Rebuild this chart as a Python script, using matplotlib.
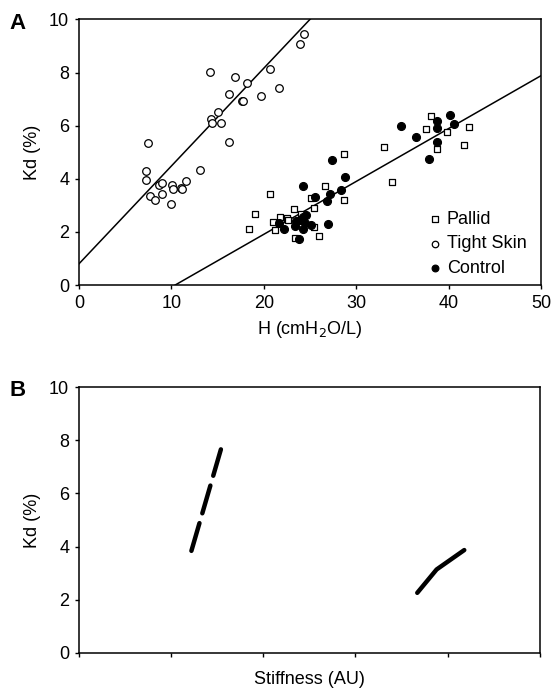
import matplotlib
matplotlib.use('Agg')
import matplotlib.pyplot as plt

plt.rcParams['font.family'] = ['Liberation Sans', 'DejaVu Sans']

# Панель A: Kd против H
tight_x = [7.44, 7.3, 7.3, 7.7, 8.2, 8.66, 9.0, 9.0, 10.0, 10.07, 10.18, 11.08, 11.2, 11.6, 13.1,
           14.2, 14.3, 14.4, 15.1, 15.4, 16.2, 16.2, 16.9, 17.65, 17.8, 18.2, 19.7, 20.7, 21.7, 23.9, 24.4]
tight_y = [5.35, 4.30, 3.95, 3.35, 3.2, 3.78, 3.86, 3.41, 3.06, 3.78, 3.61, 3.66, 3.63, 3.92, 4.35,
           8.01, 6.24, 6.10, 6.50, 6.10, 7.18, 5.39, 7.82, 6.92, 6.92, 7.62, 7.11, 8.13, 7.43, 9.06, 9.46]

pallid_x = [18.4, 19.0, 20.65, 21.0, 21.2, 21.8, 22.5, 22.6, 23.3, 23.4, 24.0, 24.1, 25.1, 25.4, 25.4,
            26.0, 26.6, 28.7, 28.7, 33.0, 33.9, 37.6, 38.1, 38.8, 39.8, 41.7, 42.2]
pallid_y = [2.12, 2.67, 3.41, 2.37, 2.09, 2.57, 2.51, 2.44, 2.88, 1.78, 2.67, 2.5, 3.27, 2.92, 2.2,
            1.85, 3.72, 4.92, 3.22, 5.18, 3.87, 5.89, 6.37, 5.11, 5.77, 5.28, 5.94]

control_x = [21.6, 22.2, 23.4, 23.5, 23.8, 23.9, 24.2, 24.3, 24.3, 24.5, 24.6, 25.1, 25.6, 26.8,
             26.9, 27.2, 27.4, 28.4, 28.8, 34.8, 36.5, 37.85, 38.75, 38.8, 38.8, 40.2, 40.55]
control_y = [2.32, 2.11, 2.23, 2.4, 1.75, 2.45, 2.12, 2.57, 3.72, 2.32, 2.65, 2.26, 3.32, 3.18,
             2.3, 3.43, 4.70, 3.57, 4.05, 6.0, 5.58, 4.74, 6.17, 5.93, 5.39, 6.40, 6.08]

# линии регрессии (наклон, пересечение)
tight_fit = (0.368, 0.8)
normal_fit = (0.199, -2.07)
line_x = [0, 50]

# Панель B: Kd против жёсткости
stiff_tight_x = [1.22, 1.38, 1.54]
stiff_tight_y = [3.84, 5.75, 7.66]
stiff_normal_x = [3.67, 3.88, 4.18]
stiff_normal_y = [2.26, 3.14, 3.87]

fig = plt.figure(figsize=(5.52, 6.92), dpi=100)
ax1 = fig.add_axes([0.143, 0.588, 0.837, 0.384])
ax2 = fig.add_axes([0.143, 0.0565, 0.835, 0.384])

fs = 13

ax1.scatter(pallid_x, pallid_y, marker='s', s=24, facecolors='white', edgecolors='black',
            linewidths=0.9, label='Pallid', zorder=3)
ax1.scatter(tight_x, tight_y, marker='o', s=30, facecolors='white', edgecolors='black',
            linewidths=0.9, label='Tight Skin', zorder=3)
ax1.scatter(control_x, control_y, marker='o', s=32, facecolors='black', edgecolors='black',
            linewidths=0.9, label='Control', zorder=3)
for k, b in [tight_fit, normal_fit]:
    ax1.plot(line_x, [k * x + b for x in line_x], color='black', lw=1.1, zorder=2)

ax1.set_xlim(0, 50)
ax1.set_ylim(0, 10)
ax1.set_xticks([0, 10, 20, 30, 40, 50])
ax1.set_yticks([0, 2, 4, 6, 8, 10])
ax1.set_xlabel('H (cmH$_2$O/L)', fontsize=fs, labelpad=5)
ax1.set_ylabel('Kd (%)', fontsize=fs, labelpad=6)
leg = ax1.legend(loc='lower right', frameon=False, fontsize=fs, handletextpad=0.05,
                 borderaxespad=0.4, labelspacing=0.4, handlelength=1.2, markerscale=0.85,
                 bbox_to_anchor=(1.0, -0.022))

ax2.plot(stiff_tight_x, stiff_tight_y, color='black', lw=3.2, dashes=(6.5, 2.3),
         dash_capstyle='round', solid_capstyle='round')
ax2.plot(stiff_normal_x, stiff_normal_y, color='black', lw=3.2, solid_capstyle='round',
         solid_joinstyle='round')
ax2.set_xlim(0, 5)
ax2.set_ylim(0, 10)
ax2.set_xticks([0, 1, 2, 3, 4, 5])
ax2.set_xticklabels([])
ax2.set_yticks([0, 2, 4, 6, 8, 10])
ax2.set_xlabel('Stiffness (AU)', fontsize=fs, labelpad=6)
ax2.set_ylabel('Kd (%)', fontsize=fs, labelpad=6)

for ax in (ax1, ax2):
    ax.tick_params(direction='out', length=3, width=1, labelsize=fs, pad=4)
    for sp in ax.spines.values():
        sp.set_linewidth(1.1)

fig.text(0.018, 0.966, 'A', fontsize=16, fontweight='bold', va='center')
fig.text(0.018, 0.436, 'B', fontsize=16, fontweight='bold', va='center')

fig.savefig('out.png', dpi=100)
